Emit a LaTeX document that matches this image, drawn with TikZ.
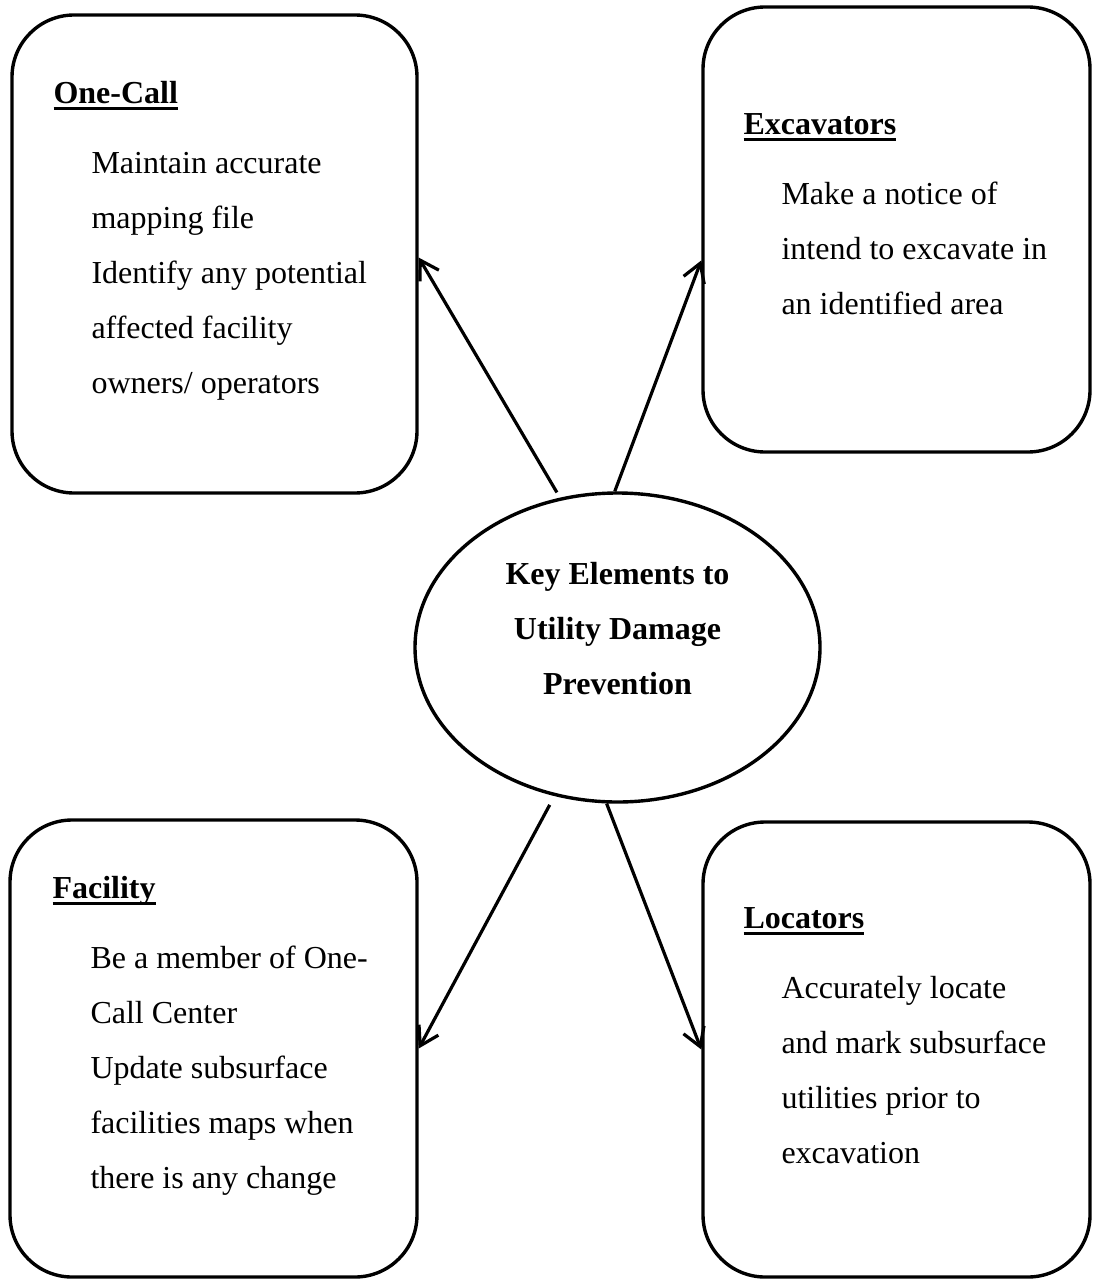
\documentclass[tikz,border=0pt]{standalone}
\usepackage{fontspec}
\setmainfont{Liberation Serif}
\usepackage{tikz}
\usetikzlibrary{shapes,arrows.meta,positioning}

\newcommand{\bodysize}{\fontsize{32}{55}\selectfont}
\newsavebox{\headbox}
\newcommand{\headline}[1]{\sbox{\headbox}{\bfseries #1}\rlap{\rule[-6.5pt]{\wd\headbox}{3pt}}\usebox{\headbox}}

\begin{document}
\begin{tikzpicture}[
  x=1pt, y=-1pt,
  duty/.style={draw, line width=3.4pt, rounded corners=62pt, inner sep=0pt},
  entry/.style={font=\bodysize, align=left, inner sep=0pt},
  hub/.style={draw, ellipse, line width=3.4pt, minimum width=405pt, minimum height=309pt, inner sep=0pt},
  hubtext/.style={font=\bodysize\bfseries, align=center, inner sep=0pt},
  flow/.style={-{Straight Barb[length=18pt,width=22pt]}, line width=3.2pt}
]
  \useasboundingbox (0,0) rectangle (1094,1279);

  \node[hub] (hub) at (617.5,647.5) {};
  \node[hubtext, below=54.5pt of hub.north] (hubtitle)
    {\strut Key Elements to\\Utility Damage\\Prevention};

  \node[duty, minimum width=405pt, minimum height=478pt] (onecall) at (214.5,254) {};
  \node[duty, minimum width=387pt, minimum height=445pt] (excav) at (896.5,229.5) {};
  \node[duty, minimum width=407pt, minimum height=457pt] (facility) at (213.5,1048.5) {};
  \node[duty, minimum width=387pt, minimum height=455pt] (locators) at (896.5,1049.5) {};

  \node[entry, below right=51.5pt and 43pt of onecall.north west] (onecalltext)
    {\strut\headline{One-Call}\\[15pt]
     \hspace*{38pt}Maintain accurate\\
     \hspace*{38pt}mapping file\\
     \hspace*{38pt}Identify any potential\\
     \hspace*{38pt}affected facility\\
     \hspace*{38pt}owners/ operators};
  \node[entry, below right=90.5pt and 42pt of excav.north west] (excavtext)
    {\strut\headline{Excavators}\\[15pt]
     \hspace*{38pt}Make a notice of\\
     \hspace*{38pt}intend to excavate in\\
     \hspace*{38pt}an identified area};
  \node[entry, below right=41.5pt and 44pt of facility.north west] (facilitytext)
    {\strut\headline{Facility}\\[15pt]
     \hspace*{38pt}Be a member of One-\\
     \hspace*{38pt}Call Center\\
     \hspace*{38pt}Update subsurface\\
     \hspace*{38pt}facilities maps when\\
     \hspace*{38pt}there is any change};
  \node[entry, below right=69.5pt and 42pt of locators.north west] (locatorstext)
    {\strut\headline{Locators}\\[15pt]
     \hspace*{38pt}Accurately locate\\
     \hspace*{38pt}and mark subsurface\\
     \hspace*{38pt}utilities prior to\\
     \hspace*{38pt}excavation};

  \draw[flow, shorten <=6pt] (hub.111) -- (onecall.-1);
  \draw[flow] (hub.91) -- (excav.189);
  \draw[flow, shorten <=10pt] (hub.247) -- (facility.east);
  \draw[flow] (hub.266) -- (locators.west);
\end{tikzpicture}
\end{document}
